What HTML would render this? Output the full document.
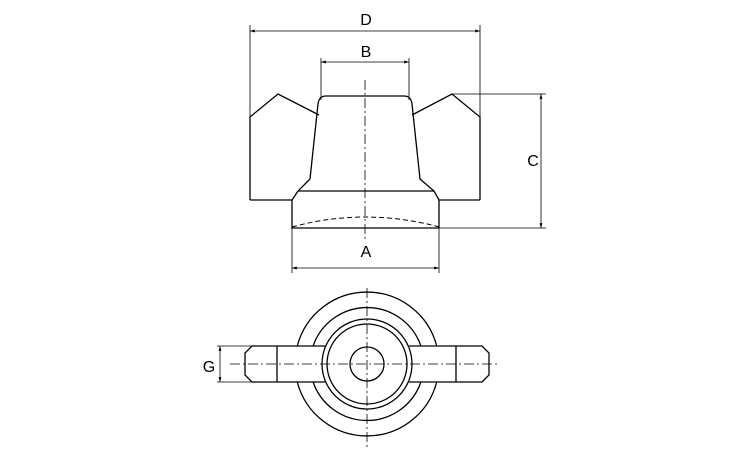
<!DOCTYPE html>
<html><head><style>body{margin:0;background:#fff}svg{display:block}</style></head><body>
<svg width="750" height="450" viewBox="0 0 750 450" xmlns="http://www.w3.org/2000/svg">
<defs>
<marker id="a" viewBox="0 0 10 10" refX="10" refY="5" markerWidth="6" markerHeight="6" orient="auto-start-reverse"><path d="M0,2 L10,5 L0,8z" fill="#000"/></marker>
</defs>
<g fill="none" stroke="#000" stroke-width="1.3">
<!-- top view -->
<path d="M250,200 V117 L278,94 L319,115"/>
<path d="M480,200 V117 L452,94 L412,115"/>
<path d="M250,200 H292 M439,200 H480"/>
<path d="M310,179 L318,104 Q319,96 326,96 H404 Q411,96 412,104 L420,179 L434,191 L439,200 M310,179 L298,191 L292,200"/>
<path d="M298,191 H434"/>
<path d="M292,200 V228 H439 V200"/>
<path d="M292,227 Q365,207 439,227" stroke-dasharray="5,3" stroke-width="1"/>
<!-- bottom view -->
<circle cx="367" cy="364" r="17"/>
<circle cx="367" cy="364" r="40"/>
<circle cx="367" cy="364" r="45"/>
<path d="M313.1,346 A57,57 0 0 1 420.9,346 M313.1,382 A57,57 0 0 0 420.9,382"/>
<path d="M297.3,346 A72,72 0 0 1 436.7,346 M297.3,382 A72,72 0 0 0 436.7,382"/>
<path d="M326,346 H252 L245,353 V375 L252,382 H326"/>
<path d="M408,346 H482 L489,353 V375 L482,382 H408"/>
<path d="M277,346 V382 M456,346 V382"/>
</g>
<g fill="none" stroke="#000" stroke-width="0.8">
<path d="M365,80 V240" stroke-dasharray="10,3,2,3"/>
<path d="M367,288 V448 M230,364 H500" stroke-dasharray="10,3,2,3"/>
<path d="M250,117 V25 M480,117 V25 M321,100 V58 M409,100 V58 M292,228 V273 M439,228 V273"/>
<path d="M452,94 H546 M439,228 H546"/>
<path d="M217,346 H252 M217,382 H252"/>
<path d="M250,31 H480" marker-start="url(#a)" marker-end="url(#a)"/>
<path d="M321,62 H409" marker-start="url(#a)" marker-end="url(#a)"/>
<path d="M292,268 H439" marker-start="url(#a)" marker-end="url(#a)"/>
<path d="M541,94 V228" marker-start="url(#a)" marker-end="url(#a)"/>
<path d="M220,346 V382" marker-start="url(#a)" marker-end="url(#a)"/>
</g>
<g font-family="Liberation Sans, sans-serif" font-size="16" text-anchor="middle">
<text x="366" y="25">D</text>
<text x="366" y="57">B</text>
<text x="366" y="257">A</text>
<text x="533" y="166">C</text>
<text x="209" y="372">G</text>
</g>
</svg>
</body></html>
